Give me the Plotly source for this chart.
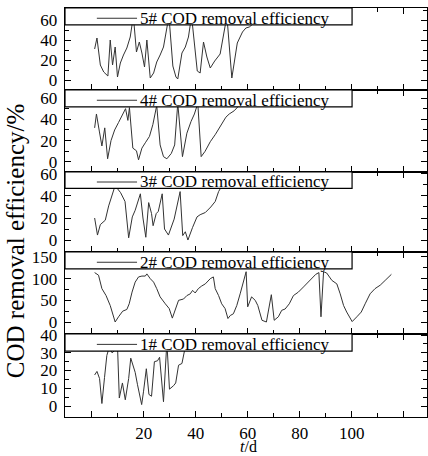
import plotly.graph_objects as go

# ---- data ----
x1 = [1.1, 2.0, 3.0, 3.9, 4.9, 5.8, 6.7, 7.8, 8.6, 9.9, 10.6, 11.8, 12.9, 14.2, 15.0, 16.7, 17.6, 19.2, 19.9, 21.0, 22.0, 23.0, 24.1, 25.3, 26.1, 27.6, 28.9, 29.9, 31.5, 32.3, 33.4, 34.7, 35.6, 36.5]
y1 = [17.5, 19.5, 15.5, 1.4, 16.0, 28.5, 33.0, 30.0, 31.0, 34.0, 4.5, 13.0, 3.5, 15.5, 27.0, 19.0, 12.0, 0.8, 8.0, 21.0, 6.5, 5.5, 25.0, 25.5, 27.5, 2.4, 36.0, 9.5, 11.5, 13.0, 23.0, 24.0, 30.5, 36.0]

x2 = [1.1, 2.6, 3.9, 5.5, 7.1, 9.0, 10.3, 11.9, 13.5, 14.4, 15.5, 16.7, 18.0, 19.3, 20.6, 21.2, 22.5, 23.8, 25.0, 26.3,
      28.3, 29.8, 31.0, 32.1, 33.4, 35.3, 36.6, 37.9, 38.8, 39.8, 41.0, 42.3, 43.7, 45.6, 46.8, 47.5, 48.8, 50.0, 51.3, 52.4,
      53.3, 54.5, 55.8, 57.1, 58.4, 59.4, 60.0, 61.5, 62.9, 63.9, 65.5, 67.2, 69.1, 70.2, 71.8, 73.1, 74.4, 76.0, 77.6, 79.5,
      81.5, 83.2, 84.7, 86.2, 87.4, 88.2, 89.2, 90.4, 92.4, 94.3, 95.6, 96.9, 98.1, 100.2, 102.0, 103.7, 105.2, 107.1, 109.0, 111.0,
      112.9, 114.2, 115.3]
y2 = [114, 108, 77, 61, 38, 0, 12, 25, 29, 42, 69, 92, 104, 106, 106, 111, 100, 92, 77, 58,
      42, 31, 9, 27, 50, 53, 61, 65, 73, 67, 77, 83, 88, 100, 104, 77, 61, 42, 31, 8,
      15, 19, 38, 65, 92, 116, 35, 58, 50, 38, 4, 0, 63, 4, 12, 27, 30, 42, 61, 69,
      81, 92, 100, 110, 114, 12, 116, 113, 96, 88, 65, 38, 23, 1, 12, 23, 42, 65, 77, 85,
      96, 104, 110]

x3 = [1.1, 2.2, 3.3, 4.5, 5.2, 6.5, 7.8, 8.8, 9.6, 11.1, 12.8, 14.2, 15.6, 16.7, 18.7, 19.7, 20.8, 21.9, 23.0, 23.6, 24.8, 25.6, 27.1, 28.0, 29.5, 31.7, 34.0, 35.0, 36.0, 37.0, 38.8, 40.5, 41.7, 43.7, 45.8, 47.5, 48.8, 50.0, 51.0]
y3 = [20, 4.5, 14, 17, 18, 31, 42, 48, 47.5, 43, 35, 2, 21, 27, 42, 20, 2.5, 34, 24, 13, 24, 26, 42, 10, 4.5, 19, 44, 4, 7.5, 0, 11.5, 21, 23, 25, 30, 35, 44, 49, 55]

x4 = [1.1, 1.8, 2.9, 3.9, 5.0, 6.1, 7.4, 8.8, 10.3, 11.9, 13.0, 13.9, 14.5, 15.8, 17.2, 18.0, 19.3, 20.6, 22.2, 23.5, 25.0, 26.3, 27.6, 28.9, 30.6, 31.9, 33.1, 34.9, 36.6, 38.2, 39.5, 40.8, 42.1, 43.6, 45.6, 47.6, 49.7, 51.6, 52.9, 54.8, 56.7]
y4 = [32, 45, 29, 15, 32, 3, 20, 30, 37, 45, 50, 39, 51, 13, 10.5, 2, 13, 18, 24, 35, 53, 16, 5, 3, 8, 16, 55, 5, 27, 38, 45, 55, 5, 10, 19, 26, 34, 42, 45, 48, 53]

x5 = [1.1, 2.0, 3.3, 4.6, 6.2, 7.1, 8.0, 9.0, 9.9, 11.0, 12.2, 13.5, 14.8, 16.0, 17.2, 18.3, 19.3, 20.3, 21.2, 22.5,
      23.8, 25.0, 26.3, 27.6, 29.7, 31.2, 32.4, 33.1, 34.7, 36.0, 37.2, 38.4, 40.6, 41.7, 43.0, 44.3, 45.6, 47.3, 49.4, 52.0,
      53.9, 56.0, 58.0, 59.3, 60.6, 62.5]
y5 = [31, 42, 15, 8, 4, 40, 15, 33, 3, 17, 25, 32, 43, 64, 28, 38, 27, 13, 40, 2,
      7, 18, 25, 33, 64, 14, 3, 1, 27, 33, 43, 64, 9, 7, 38, 23, 12, 19, 26, 64,
      2, 37, 48, 52, 53, 57]

labels = ["1# COD removal efficiency", "2# COD removal efficiency", "3# COD removal efficiency",
          "4# COD removal efficiency", "5# COD removal efficiency"]

x_tickvals = [0, 20, 40, 60, 80, 100, 120]
x_ticktext = ["", "20", "40", "60", "80", "100", ""]
x_minorvals = [10, 30, 50, 70, 90, 110]

y_ticks = [[0, 10, 20, 30, 40], [0, 50, 100, 150], [0, 20, 40, 60], [0, 20, 40, 60], [0, 20, 40, 60]]
y_minor = [[5, 15, 25, 35], [25, 75, 125], [10, 30, 50], [10, 30, 50], [10, 30, 50, 70]]
y_ranges = [[-6.2, 40.6], [-27.7, 161.5], [-10.9, 61.8], [-9.4, 67.5], [-10.0, 72.0]]

xs = [x1, x2, x3, x4, x5]
ys = [y1, y2, y3, y4, y5]

# ---- layout geometry ----
W, H = 428, 456
ML, MR, MT, MB = 65, 1, 8, 39
domains = [[0.0, 0.2029], [0.2029, 0.4034], [0.4034, 0.5990], [0.5990, 0.7995], [0.7995, 1.0]]
XRANGE = [-10.3, 129]
FONT = '"Liberation Serif", "Times New Roman", Times, serif'
LINE_C = "#333333"

fig = go.Figure()
layout = dict(
    width=W, height=H,
    margin=dict(l=ML, r=MR, t=MT, b=MB),
    paper_bgcolor="white", plot_bgcolor="white",
    showlegend=False,
    font=dict(family=FONT, size=17, color="black"),
)

shapes = []
annotations = []
for i in range(5):
    k = i + 1
    sx = "" if k == 1 else str(k)
    fig.add_trace(go.Scatter(x=xs[i], y=ys[i], mode="lines",
                             line=dict(color=LINE_C, width=1),
                             xaxis="x" + sx, yaxis="y" + sx, hoverinfo="skip"))
    layout["xaxis" + sx] = dict(
        domain=[0, 1], anchor="y" + sx, range=XRANGE,
        showline=True, linecolor="black", linewidth=1.3, mirror="allticks",
        ticks="inside", ticklen=6, tickwidth=1, tickcolor="black",
        tickmode="array", tickvals=x_tickvals, ticktext=x_ticktext,
        showticklabels=(k == 1), showgrid=False, zeroline=False,
        tickfont=dict(family=FONT, size=17, color="black"),
        minor=dict(tickmode="array", tickvals=x_minorvals, ticks="inside", ticklen=4,
                   tickcolor="black", showgrid=False),
    )
    layout["yaxis" + sx] = dict(
        domain=domains[i], anchor="x" + sx, range=y_ranges[i],
        showline=True, linecolor="black", linewidth=1.3, mirror="allticks",
        ticks="inside", ticklen=6, tickwidth=1, tickcolor="black",
        tickmode="array", tickvals=y_ticks[i],
        showgrid=False, zeroline=False, ticklabelstandoff=3,
        tickfont=dict(family=FONT, size=17, color="black"),
        minor=dict(tickmode="array", tickvals=y_minor[i], ticks="inside", ticklen=4,
                   tickcolor="black", showgrid=False),
    )
    # legend box (opaque, covers the data as in the reference)
    xr = "x" + sx + " domain"
    yr = "y" + sx + " domain"
    shapes.append(dict(type="rect", xref=xr, yref=yr, x0=0, x1=0.793, y0=0.795, y1=1.0,
                       fillcolor="white", line=dict(color="black", width=1.2), layer="above"))
    shapes.append(dict(type="line", xref=xr, yref=yr, x0=0.088, x1=0.199, y0=0.875, y1=0.875,
                       line=dict(color=LINE_C, width=1), layer="above"))
    annotations.append(dict(xref=xr, yref=yr, x=0.203, y=0.878, xanchor="left", yanchor="middle",
                            text=labels[i], showarrow=False,
                            font=dict(family=FONT, size=17, color="black")))

annotations.append(dict(xref="paper", yref="paper", x=-0.138, y=0.43, xanchor="center", yanchor="middle",
                        text="COD removal efficiency/%", textangle=-90, showarrow=False,
                        font=dict(family=FONT, size=25, color="black")))
annotations.append(dict(xref="paper", yref="paper", x=0.508, y=-0.071, xanchor="center", yanchor="middle",
                        text="<i>t</i>/d", showarrow=False,
                        font=dict(family=FONT, size=16, color="black")))

layout["shapes"] = shapes
layout["annotations"] = annotations
fig.update_layout(**layout)
fig.write_html("out.html",
               config={"displayModeBar": False, "staticPlot": True},
               post_script="document.body.style.margin='0';document.body.style.padding='0';")
